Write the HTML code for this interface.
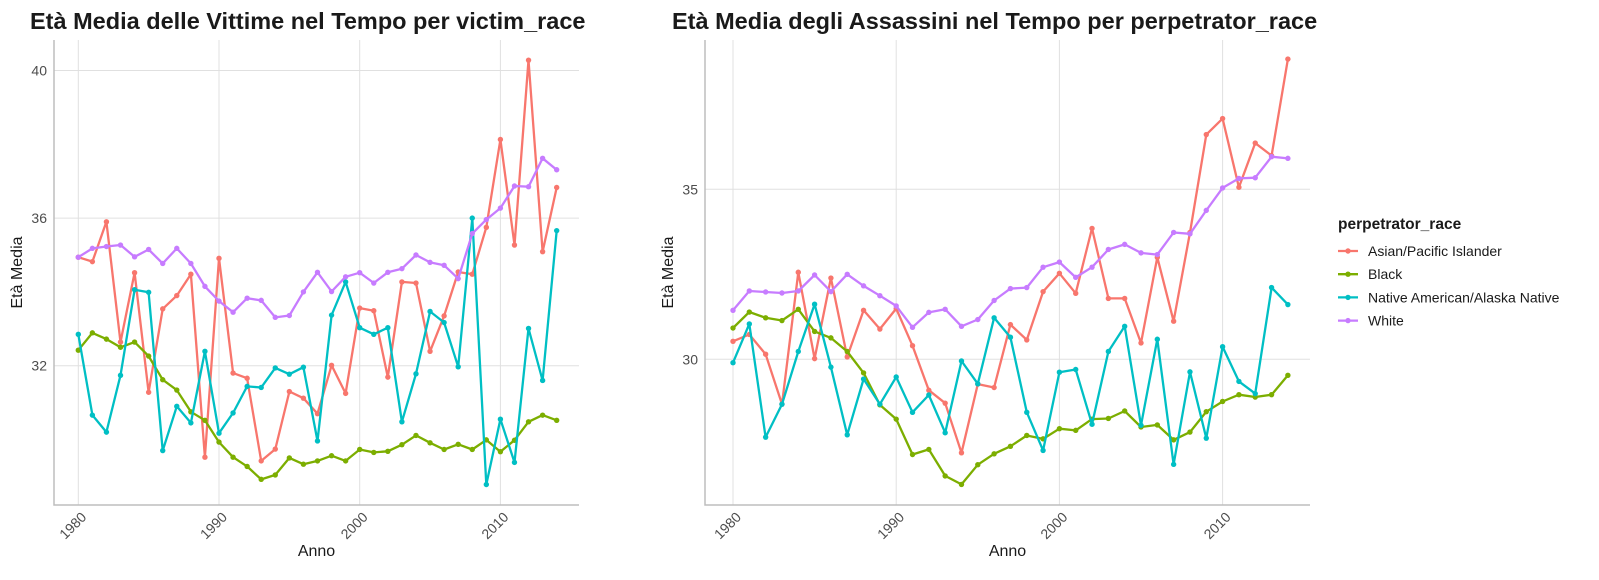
<!DOCTYPE html>
<html><head><meta charset="utf-8">
<style>
body{margin:0;background:#fff;}
svg{display:block;font-family:"Liberation Sans",Arial,sans-serif;}
</style></head>
<body>
<svg id="chart" width="1599" height="580" viewBox="0 0 1599 580" xmlns="http://www.w3.org/2000/svg">
<rect x="0" y="0" width="1599" height="580" fill="#fff"/>
<text x="30" y="29" font-size="23.5" font-weight="bold" fill="#1a1a1a">Età Media delle Vittime nel Tempo per victim_race</text>
<text x="672" y="29" font-size="23.5" font-weight="bold" fill="#1a1a1a">Età Media degli Assassini nel Tempo per perpetrator_race</text>
<g id="left"></g>
<g id="right"></g>
<g id="legend"></g>
</svg>
<script>
const years = [];
for (let y = 1980; y <= 2014; y++) years.push(y);
const seriesNames = ["Asian/Pacific Islander","Black","Native American/Alaska Native","White"];
const seriesColors = ["#F8766D","#7CAE00","#00BFC4","#C77CFF"];

const victimAsian = [34.94,34.82,35.90,32.64,34.52,31.28,33.54,33.90,34.48,29.52,34.91,31.80,31.66,29.42,29.74,31.30,31.12,30.70,32.01,31.25,33.56,33.49,31.69,34.27,34.24,32.39,33.35,34.54,34.48,35.75,38.13,35.27,40.28,35.09,36.83];
const victimBlack = [32.42,32.89,32.72,32.50,32.64,32.26,31.62,31.34,30.75,30.52,29.93,29.52,29.27,28.92,29.04,29.50,29.33,29.42,29.56,29.42,29.73,29.65,29.68,29.86,30.11,29.91,29.73,29.87,29.73,29.99,29.67,29.98,30.48,30.66,30.52];
const victimNative = [32.85,30.66,30.20,31.74,34.06,33.99,29.70,30.90,30.45,32.39,30.17,30.72,31.44,31.41,31.94,31.77,31.96,29.96,33.37,34.27,33.03,32.85,33.03,30.48,31.78,33.47,33.17,31.97,36.00,28.78,30.55,29.38,33.01,31.60,35.66];
const victimWhite = [34.94,35.18,35.23,35.27,34.95,35.15,34.77,35.18,34.77,34.15,33.75,33.45,33.83,33.77,33.31,33.36,34.00,34.53,34.01,34.41,34.52,34.24,34.53,34.63,35.00,34.80,34.72,34.36,35.58,35.96,36.27,36.87,36.85,37.62,37.31];

const perpAsian = [30.53,30.73,30.15,28.68,32.56,30.02,32.39,30.07,31.44,30.89,31.49,30.40,29.09,28.71,27.25,29.27,29.17,31.02,30.57,31.99,32.53,31.94,33.85,31.79,31.79,30.48,33.00,31.12,33.73,36.61,37.08,35.06,36.36,35.99,38.83];
const perpBlack = [30.92,31.39,31.22,31.14,31.47,30.82,30.63,30.23,29.60,28.66,28.24,27.20,27.35,26.57,26.32,26.90,27.22,27.44,27.76,27.66,27.96,27.91,28.24,28.26,28.48,28.01,28.07,27.63,27.86,28.46,28.76,28.96,28.89,28.96,29.53];
const perpNative = [29.90,31.04,27.71,28.68,30.23,31.62,29.77,27.78,29.42,28.68,29.48,28.44,28.95,27.84,29.95,29.28,31.22,30.65,28.44,27.32,29.62,29.70,28.09,30.23,30.97,28.06,30.59,26.91,29.63,27.68,30.37,29.35,28.99,32.11,31.61];
const perpWhite = [31.44,32.01,31.98,31.95,32.01,32.48,31.99,32.50,32.16,31.87,31.57,30.94,31.38,31.47,30.97,31.17,31.73,32.08,32.11,32.71,32.86,32.41,32.71,33.23,33.38,33.13,33.08,33.73,33.69,34.38,35.04,35.32,35.34,35.96,35.91];

const xTicks = [1980,1990,2000,2010];
const leftYTicks = [32,36,40];
const rightYTicks = [30,35];

const NS = "http://www.w3.org/2000/svg";
function el(tag, attrs, parent){const e=document.createElementNS(NS,tag);for(const k in attrs)e.setAttribute(k,attrs[k]);parent.appendChild(e);return e;}

function drawPanel(g, cfg, series){
  const xs = v => cfg.x0 + (v-1980)*cfg.xs;
  const ys = v => cfg.y0 - (v-cfg.yRef)*cfg.ys;
  xTicks.forEach(t=>{
    const l=el("line",{x1:xs(t),x2:xs(t),y1:cfg.top,y2:cfg.bottom,stroke:"#e0e0e0","stroke-width":1},g);
    
    
    const ax=xs(t)+9, ay=cfg.bottom+13;
    const tx=el("text",{x:ax,y:ay,"font-size":14,fill:"#4d4d4d","text-anchor":"end",transform:`rotate(-45 ${ax} ${ay})`},g);
    tx.textContent=t;
    
    
  });
  cfg.yTicks.forEach(t=>{
    const l=el("line",{x1:cfg.left,x2:cfg.right,y1:ys(t),y2:ys(t),stroke:"#e0e0e0","stroke-width":1},g);
    
    
    const tx=el("text",{x:cfg.left-7,y:ys(t)+5,"font-size":14,fill:"#4d4d4d","text-anchor":"end"},g);
    tx.textContent=t;
    
    
  });
  const ax=el("path",{d:`M${cfg.left} ${cfg.top} V${cfg.bottom} H${cfg.right}`,stroke:"#bdbdbd","stroke-width":1.5,fill:"none"},g);
  
  
  const xt=el("text",{x:(cfg.left+cfg.right)/2,y:556,"font-size":16,fill:"#1a1a1a","text-anchor":"middle"},g);
  xt.textContent="Anno";
  
  
  const yc=(cfg.top+cfg.bottom)/2;
  const yx=cfg.left-32;
  const yt=el("text",{x:yx,y:yc,"font-size":16,fill:"#1a1a1a","text-anchor":"middle",transform:`rotate(-90 ${yx} ${yc})`},g);
  yt.textContent="Età Media";
  
  
  series.forEach((s,i)=>{
    const sg=el("g",{},g);
    
    
    const d=s.map((v,j)=>(j?"L":"M")+xs(years[j]).toFixed(1)+" "+ys(v).toFixed(1)).join(" ");
    const p=el("path",{d:d,stroke:seriesColors[i],"stroke-width":2.3,fill:"none","stroke-linejoin":"round"},sg);
    
    
    s.forEach((v,j)=>{
      const c=el("circle",{cx:xs(years[j]),cy:ys(v),r:2.7,fill:seriesColors[i]},sg);
      
      
    });
  });
}

drawPanel(document.getElementById("left"),
  {left:54,right:579,top:40,bottom:505,x0:78.3,xs:14.07,y0:365.7,yRef:32,ys:36.9,yTicks:leftYTicks},
  [victimAsian,victimBlack,victimNative,victimWhite]);
drawPanel(document.getElementById("right"),
  {left:705,right:1310,top:40,bottom:505,x0:733,xs:16.32,y0:359.3,yRef:30,ys:34.0,yTicks:rightYTicks},
  [perpAsian,perpBlack,perpNative,perpWhite]);

const lg=document.getElementById("legend");
const lt=el("text",{x:1338,y:229,"font-size":15.5,"font-weight":"bold",fill:"#1a1a1a"},lg);
lt.textContent="perpetrator_race";


seriesNames.forEach((n,i)=>{
  const y=251+i*23.2;
  const g=el("g",{},lg);
  
  
  el("line",{x1:1338,x2:1358,y1:y,y2:y,stroke:seriesColors[i],"stroke-width":2.3},g);
  el("circle",{cx:1348,cy:y,r:2.7,fill:seriesColors[i]},g);
  const t=el("text",{x:1368,y:y+5,"font-size":14,fill:"#1a1a1a"},g);
  t.textContent=n;
});
</script>
</body></html>
